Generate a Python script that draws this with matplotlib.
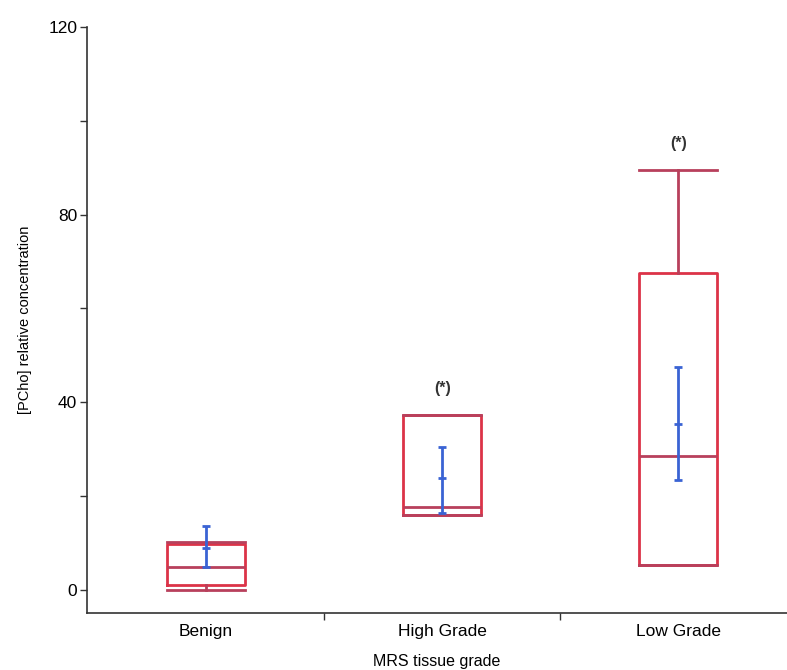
import matplotlib
matplotlib.use("Agg")
import matplotlib.pyplot as plt
from matplotlib.ticker import FixedLocator

plt.rcParams['font.family'] = ['Liberation Sans', 'DejaVu Sans']

groups = ["Benign", "High Grade", "Low Grade"]
whisker_low = [0.0, 16.0, 5.3]
q1 = [1.1, 16.0, 5.3]
median = [4.9, 17.7, 28.6]
q3 = [9.7, 37.3, 67.6]
whisker_high = [10.3, 37.3, 89.6]
means = [9.0, 23.9, 35.4]
ci_low = [4.9, 16.4, 23.5]
ci_high = [13.6, 30.5, 47.5]
signif = ["", "(*)", "(*)"]

box_red = '#dc3348'
dark_red = '#b8405c'
blue = '#3a63d4'

fig = plt.figure(figsize=(7.87, 6.70), dpi=100)
ax = fig.add_axes([0.1105, 0.0851, 0.8895, 0.8746])

pos = list(range(len(groups)))
stats = []
for i in pos:
    stats.append(dict(whislo=whisker_low[i], q1=q1[i], med=median[i],
                      q3=q3[i], whishi=whisker_high[i], fliers=[]))

ax.bxp(stats, positions=pos, widths=0.33, showfliers=False,
       boxprops=dict(color=box_red, linewidth=2.0),
       medianprops=dict(color=dark_red, linewidth=2.0),
       whiskerprops=dict(color=dark_red, linewidth=2.0),
       capprops=dict(color=dark_red, linewidth=2.0),
       capwidths=0.33)

err = [[m - lo for m, lo in zip(means, ci_low)],
       [hi - m for m, hi in zip(means, ci_high)]]
ax.errorbar(pos, means, yerr=err, fmt='_', color=blue, ecolor=blue,
            elinewidth=2.0, capsize=3, capthick=2.0, markersize=6,
            markeredgewidth=2.0, zorder=5)

for i in pos:
    if signif[i]:
        ax.annotate(signif[i], (i, whisker_high[i]), xytext=(0, 19),
                    textcoords='offset points', ha='center', va='center',
                    fontsize=11.5, fontweight='bold', color='#333333')

ax.set_xlim(-0.504, 2.46)
ax.set_ylim(-4.9, 120)

ax.set_xticks(pos)
ax.set_xticklabels(groups, fontsize=12.5)
ax.xaxis.set_minor_locator(FixedLocator([0.5, 1.5]))
ax.tick_params(axis='x', which='major', length=0, pad=8)
ax.tick_params(axis='x', which='minor', length=5, width=1, color='#333333')

ax.set_yticks([0, 40, 80, 120])
ax.yaxis.set_minor_locator(FixedLocator([20, 60, 100]))
ax.tick_params(axis='y', which='both', length=5, width=1, color='#333333',
               labelsize=12.5, pad=2)

ax.spines['top'].set_visible(False)
ax.spines['right'].set_visible(False)
for s in ['left', 'bottom']:
    ax.spines[s].set_linewidth(1.2)
    ax.spines[s].set_color('#333333')

ax.set_xlabel("MRS tissue grade", fontsize=11.5, labelpad=11)
ax.set_ylabel("[PCho] relative concentration", fontsize=10.5, labelpad=12)

fig.savefig("out.png", dpi=100)
